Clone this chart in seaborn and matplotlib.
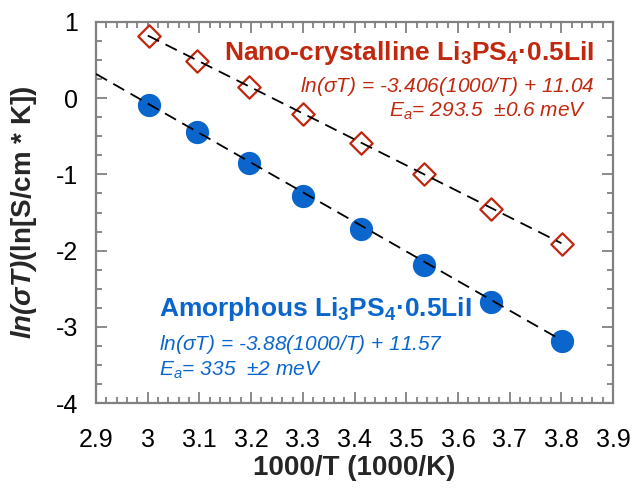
import matplotlib
matplotlib.use("Agg")
import matplotlib.pyplot as plt
from matplotlib.ticker import MultipleLocator
import numpy as np
import pandas as pd
import seaborn as sns

# Arrhenius data: inverse temperature (1000/K) and ln(sigma*T)
inv_temp = [3.003, 3.096, 3.195, 3.300, 3.413, 3.534, 3.663, 3.802]
ln_sigma_t_nano = [0.81, 0.49, 0.15, -0.21, -0.59, -1.00, -1.45, -1.91]
ln_sigma_t_amorph = [-0.09, -0.45, -0.85, -1.28, -1.72, -2.19, -2.67, -3.19]

# Linear fits: ln(sigma*T) = slope*(1000/T) + intercept
fit_nano = {"slope": -3.406, "intercept": 11.04, "x_range": [3.0, 3.8]}
fit_amorph = {"slope": -3.88, "intercept": 11.57, "x_range": [2.9, 3.8]}

x_ticks = [2.9, 3.0, 3.1, 3.2, 3.3, 3.4, 3.5, 3.6, 3.7, 3.8, 3.9]
x_tick_labels = ["2.9", "3", "3.1", "3.2", "3.3", "3.4", "3.5", "3.6", "3.7", "3.8", "3.9"]
y_ticks = [-4, -3, -2, -1, 0, 1]

RED = "#c0280f"
BLUE = "#0a66cc"

sns.set_theme(style="ticks")
plt.rcParams["font.family"] = ["Liberation Sans", "DejaVu Sans"]
plt.rcParams["axes.unicode_minus"] = False
plt.rcParams["mathtext.fontset"] = "custom"
plt.rcParams["mathtext.rm"] = "Liberation Sans"
plt.rcParams["mathtext.it"] = "Liberation Sans:italic"
plt.rcParams["mathtext.bf"] = "Liberation Sans:bold"
plt.rcParams["mathtext.bfit"] = "Liberation Sans:italic:bold"

fig = plt.figure(figsize=(6.36, 4.88), dpi=100)
ax = fig.add_axes([0.151, 0.174, 0.813, 0.781])

pts = pd.DataFrame({
    "x": inv_temp * 2,
    "y": ln_sigma_t_nano + ln_sigma_t_amorph,
    "phase": ["nano"] * len(inv_temp) + ["amorph"] * len(inv_temp),
})


def fit_frame(fit):
    xs = np.array(fit["x_range"])
    return pd.DataFrame({"x": xs, "y": fit["slope"] * xs + fit["intercept"]})


for fit in (fit_amorph, fit_nano):
    sns.lineplot(data=fit_frame(fit), x="x", y="y", ax=ax, color="black",
                 lw=1.3, dashes=False, zorder=3, legend=False)
    ax.lines[-1].set_dashes([7, 4])

sns.scatterplot(data=pts[pts.phase == "amorph"], x="x", y="y", ax=ax,
                marker="o", s=240, color=BLUE, edgecolor=BLUE, zorder=2,
                legend=False)
sns.scatterplot(data=pts[pts.phase == "nano"], x="x", y="y", ax=ax,
                marker="D", s=130, facecolor="white", edgecolor=RED,
                linewidth=1.6, zorder=2, legend=False)

ax.set_xlim(2.9, 3.9)
ax.set_ylim(-4, 1)
ax.set_xticks(x_ticks)
ax.set_xticklabels(x_tick_labels)
ax.set_yticks(y_ticks)
ax.xaxis.set_minor_locator(MultipleLocator(0.02))
ax.yaxis.set_minor_locator(MultipleLocator(0.25))
ax.tick_params(which="both", direction="in", top=True, right=True,
               color="#777777", width=1.2, labelsize=18, labelcolor="black")
ax.tick_params(which="major", length=8)
ax.tick_params(axis="x", which="major", pad=18)
ax.tick_params(axis="y", which="major", pad=13)
ax.tick_params(which="minor", length=4)
for sp in ax.spines.values():
    sp.set_color("#808080")
    sp.set_linewidth(1.6)

ax.set_xlabel("1000/T (1000/K)", fontsize=20, fontweight="bold", labelpad=2)
ax.set_ylabel(r"$\mathbfit{ln(\sigma T)}$(ln[S/cm * K])", fontsize=20,
              fontweight="bold", labelpad=12)

ax.text(3.863, 0.50, r"Nano-crystalline Li$_\mathbf{3}$PS$_\mathbf{4}$·0.5LiI",
        color=RED, fontsize=19, fontweight="bold", ha="right", va="baseline")
ax.text(3.865, 0.087, r"ln($\mathit{\sigma}$T) = -3.406(1000/T) + 11.04",
        color=RED, fontsize=15, style="italic", ha="right", va="baseline")
ax.text(3.848, -0.24, r"E$_\mathit{a}$= 293.5  ±0.6 meV",
        color=RED, fontsize=15, style="italic", ha="right", va="baseline")

ax.text(3.022, -2.86, r"Amorphous Li$_\mathbf{3}$PS$_\mathbf{4}$·0.5LiI",
        color=BLUE, fontsize=19, fontweight="bold", ha="left", va="baseline")
ax.text(3.022, -3.31, r"ln($\mathit{\sigma}$T) = -3.88(1000/T) + 11.57",
        color=BLUE, fontsize=15, style="italic", ha="left", va="baseline")
ax.text(3.022, -3.64, r"E$_\mathit{a}$= 335  ±2 meV",
        color=BLUE, fontsize=15, style="italic", ha="left", va="baseline")

fig.savefig("out.png", dpi=100)
